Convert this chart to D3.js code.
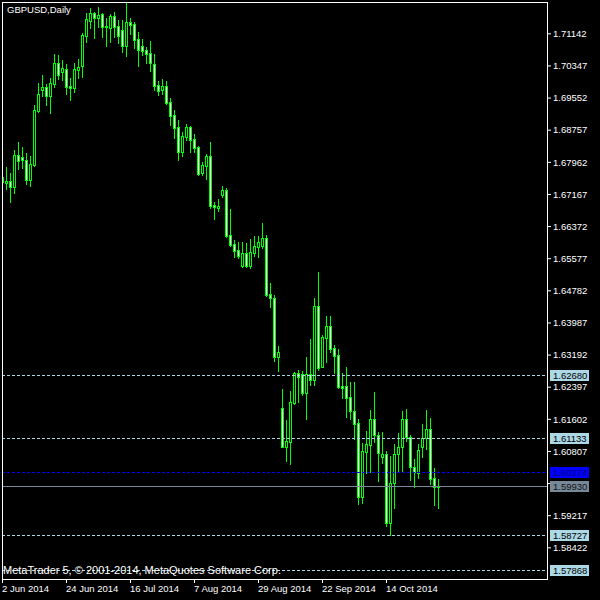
<!DOCTYPE html>
<html><head><meta charset="utf-8">
<script src="https://cdn.jsdelivr.net/npm/d3@7"></script>
<style>html,body{margin:0;padding:0;background:#000;} svg{display:block;}</style>
</head><body>
<svg id="chart" width="600" height="600"></svg>
<script>
const symbolTitle = "GBPUSD,Daily";
const footerText = "MetaTrader 5, \u00A9 2001-2014, MetaQuotes Software Corp.";
const firstDay = "2014-06-02", lastDay = "2014-10-31";

const open = [1.67586,1.67438,1.67487,1.67339,1.68131,1.68081,1.68007,1.67512,1.67883,1.69220,
1.69739,1.69814,1.69591,1.69895,1.70407,1.70185,1.70259,1.69838,1.69789,1.70234,
1.70341,1.71083,1.71454,1.71645,1.71514,1.71620,1.71323,1.71281,1.71571,1.71323,
1.71224,1.70836,1.71422,1.71373,1.71001,1.70828,1.70729,1.70655,1.70383,1.69863,
1.69739,1.69838,1.69442,1.69121,1.68824,1.68212,1.68584,1.68824,1.68527,1.68329,
1.67693,1.67866,1.68106,1.66893,1.66827,1.67141,1.67265,1.66151,1.65928,1.65780,
1.65384,1.65706,1.65384,1.65713,1.65861,1.65886,1.66077,1.64691,1.64585,1.63139,
1.61870,1.60912,1.61036,1.62001,1.62736,1.62711,1.62248,1.62711,1.62563,1.64394,
1.62892,1.63609,1.63899,1.63355,1.63181,1.62414,1.62414,1.62134,1.61803,1.61491,
1.59675,1.60788,1.60947,1.61590,1.61194,1.60665,1.60731,1.59031,1.60006,1.60724,
1.60912,1.61590,1.61160,1.60402,1.60269,1.60912,1.61120,1.61343,1.60137,1.59922];

const high = [1.67611,1.67834,1.67685,1.68254,1.68452,1.68329,1.68180,1.68106,1.69368,1.69913,
1.70111,1.69888,1.70036,1.70630,1.70605,1.70482,1.70383,1.70036,1.70407,1.70506,
1.71150,1.71645,1.71769,1.71670,1.71793,1.71645,1.71521,1.71620,1.71670,1.71472,
1.71472,1.71892,1.71521,1.71422,1.71182,1.71001,1.70811,1.70952,1.70630,1.69962,
1.70012,1.69962,1.69534,1.69244,1.68997,1.68700,1.68898,1.68848,1.68650,1.68353,
1.67958,1.68156,1.68452,1.66975,1.67042,1.67364,1.67314,1.66794,1.66027,1.65978,
1.65978,1.65953,1.66052,1.66126,1.66126,1.66448,1.66151,1.64963,1.64666,1.63404,
1.62340,1.61573,1.62290,1.62761,1.62810,1.62785,1.63132,1.63585,1.64592,1.65235,
1.63676,1.64146,1.64146,1.63436,1.63330,1.62736,1.62884,1.62513,1.62513,1.61590,
1.61004,1.61301,1.61820,1.62266,1.61276,1.61268,1.60813,1.60682,1.60979,1.61251,
1.61788,1.61845,1.61194,1.60608,1.60971,1.61474,1.61820,1.61615,1.60385,1.60113];

const low = [1.67438,1.67289,1.66968,1.67190,1.67784,1.67809,1.67413,1.67364,1.67859,1.69195,
1.69591,1.69368,1.69170,1.69814,1.70012,1.69987,1.69640,1.69492,1.69690,1.70036,
1.70061,1.70935,1.71281,1.71034,1.71306,1.71058,1.70836,1.70935,1.71058,1.70910,
1.70687,1.70588,1.71133,1.70771,1.70341,1.70605,1.70400,1.70217,1.69739,1.69616,
1.69648,1.69400,1.68873,1.68559,1.68014,1.68113,1.68502,1.68212,1.68212,1.67636,
1.67636,1.67537,1.66819,1.66547,1.66752,1.67099,1.66102,1.65879,1.65614,1.65589,
1.65359,1.65359,1.65334,1.65639,1.65614,1.65837,1.64641,1.64377,1.63040,1.62793,
1.60905,1.60566,1.60491,1.61969,1.62018,1.62191,1.61605,1.62439,1.62439,1.62810,
1.62892,1.63016,1.63263,1.62743,1.62372,1.62125,1.61654,1.61605,1.61110,1.59494,
1.59526,1.60254,1.60293,1.61036,1.60071,1.60501,1.58957,1.58727,1.59402,1.60286,
1.60286,1.61053,1.60095,1.59922,1.60145,1.60665,1.60855,1.59989,1.59469,1.59395];

const close = [1.67463,1.67487,1.67339,1.68131,1.67982,1.68014,1.67512,1.67908,1.69244,1.69640,
1.69814,1.69591,1.69913,1.70407,1.70111,1.70284,1.69814,1.69789,1.70259,1.70309,
1.71100,1.71496,1.71645,1.71514,1.71595,1.71306,1.71291,1.71571,1.71306,1.71083,
1.70836,1.71422,1.71355,1.70984,1.70737,1.70712,1.70638,1.70400,1.69846,1.69715,
1.69838,1.69425,1.69103,1.68806,1.68212,1.68601,1.68824,1.68502,1.68311,1.67661,
1.67883,1.68106,1.66869,1.66836,1.66869,1.67265,1.66134,1.65904,1.65762,1.65639,
1.65706,1.65384,1.65730,1.65879,1.65978,1.66077,1.64659,1.64585,1.63139,1.63256,
1.60912,1.61053,1.62018,1.62736,1.62637,1.62248,1.62711,1.62563,1.64394,1.62860,
1.63627,1.63899,1.63337,1.63164,1.62389,1.62372,1.62125,1.61803,1.61486,1.59660,
1.60806,1.60971,1.61590,1.61194,1.60749,1.60731,1.59031,1.60006,1.60731,1.60897,
1.61590,1.61160,1.60402,1.60279,1.60830,1.61127,1.61343,1.60120,1.59922,1.59930];

const priceTicks = [1.71142,1.70347,1.69552,1.68757,1.67962,1.67167,1.66372,1.65577,1.64782,
1.63987,1.63192,1.62397,1.61602,1.60807,1.60012,1.59217,1.58422];
const dateTickEvery = 16;
const levelLines = [1.62680, 1.61133, 1.58727, 1.57868];
const blueLevel = 1.60274;
const bidPrice = 1.59930;
const priceRange = [1.57638, 1.71917];

// ---------- layout ----------
const L = 2, T = 2, R = 547, B = 579;
const GREEN = "#00ff00", LBLUE = "#add8e6", FONT = "Liberation Sans, Arial, sans-serif";

const parse = d3.utcParse("%Y-%m-%d");
const dates = d3.utcDay.range(parse(firstDay), d3.utcDay.offset(parse(lastDay), 1))
  .filter(d => d.getUTCDay() !== 0 && d.getUTCDay() !== 6);

const x = d3.scalePoint().domain(dates).range([2, 2 + 4 * (dates.length - 1)]);
const y = d3.scaleLinear().domain(priceRange).range([B, T]);

const svg = d3.select("#chart");
svg.append("rect").attr("width", 600).attr("height", 600).attr("fill", "#000");

svg.append("defs").append("clipPath").attr("id", "plot")
  .append("rect").attr("x", L + 1).attr("y", T + 1).attr("width", R - L - 1).attr("height", B - T - 1);

const plot = svg.append("g").attr("clip-path", "url(#plot)");

// candles
const candles = plot.selectAll("g.c").data(dates).join("g").attr("class", "c");
candles.each(function(d, i) {
  const g = d3.select(this);
  const c = Math.round(x(d));
  const yh = Math.round(y(high[i])), yl = Math.round(y(low[i]));
  const yt = Math.round(y(Math.max(open[i], close[i])));
  const yb = Math.round(y(Math.min(open[i], close[i])));
  g.append("rect").attr("x", c).attr("y", yh).attr("width", 1).attr("height", yl - yh + 1).attr("fill", GREEN);
  g.append("rect").attr("x", c - 1).attr("y", yt).attr("width", 3).attr("height", yb - yt + 1).attr("fill", GREEN);
  if (yb - yt >= 2) {
    g.append("rect").attr("x", c).attr("y", yt + 1).attr("width", 1).attr("height", yb - yt - 1)
      .attr("fill", close[i] < open[i] ? "#ffffff" : "#000000");
  }
});

// horizontal level lines
const lines = svg.append("g");
levelLines.forEach(v => {
  const yy = Math.round(y(v)) + 0.5;
  lines.append("line").attr("x1", L).attr("x2", R).attr("y1", yy).attr("y2", yy)
    .attr("stroke", LBLUE).attr("stroke-dasharray", "3,2");
});
{
  const yy = Math.round(y(blueLevel)) + 0.5;
  lines.append("line").attr("x1", L).attr("x2", R).attr("y1", yy).attr("y2", yy)
    .attr("stroke", "#0000ff").attr("stroke-dasharray", "3,2");
  const yb = Math.round(y(bidPrice)) + 0.5;
  lines.append("line").attr("x1", L).attr("x2", R).attr("y1", yb).attr("y2", yb)
    .attr("stroke", "#778899");
}

// frame
svg.append("rect").attr("x", L + 0.5).attr("y", T + 0.5).attr("width", R - L).attr("height", B - T)
  .attr("fill", "none").attr("stroke", "#fff");

// y axis
const yAxis = svg.append("g").attr("transform", `translate(${R},0)`)
  .call(d3.axisRight(y).tickValues(priceTicks).tickSize(4).tickSizeOuter(0).tickPadding(2)
    .tickFormat(d3.format(".5f")));
yAxis.select(".domain").remove();
yAxis.selectAll("line").attr("stroke", "#fff");
yAxis.selectAll("text").attr("fill", "#fff").attr("font-family", FONT).attr("font-size", 9.5).attr("dy", "0.34em");

// x axis
const xAxis = svg.append("g").attr("transform", `translate(0,${B})`)
  .call(d3.axisBottom(x).tickValues(dates.filter((d, i) => i % dateTickEvery === 0))
    .tickSize(4).tickSizeOuter(0).tickPadding(2).tickFormat(d3.utcFormat("%-d %b %Y")));
xAxis.select(".domain").remove();
xAxis.selectAll("line").attr("stroke", "#fff");
xAxis.selectAll("text").attr("fill", "#fff").attr("font-family", FONT).attr("font-size", 9.5)
  .attr("text-anchor", "start").attr("x", -0.5);

// price labels
const labels = [
  ...levelLines.map(v => ({v, bg: LBLUE, fg: "#000"})),
  {v: blueLevel, bg: "#0000ff", fg: "#000080"},
  {v: bidPrice, bg: "#778899", fg: "#111"}
];
const lab = svg.append("g").selectAll("g").data(labels).join("g")
  .attr("transform", d => `translate(0,${Math.round(y(d.v))})`);
lab.append("rect").attr("x", 550).attr("y", -5).attr("width", 39).attr("height", 11).attr("fill", d => d.bg);
lab.append("text").attr("x", 553).attr("y", 0.5).attr("dy", "0.34em").attr("fill", d => d.fg)
  .attr("font-family", FONT).attr("font-size", 9.5).text(d => d3.format(".5f")(d.v));

// title & footer
svg.append("text").attr("x", 7).attr("y", 12.5).attr("fill", "#fff").attr("font-family", FONT)
  .attr("font-size", 9.5).text(symbolTitle);
svg.append("text").attr("x", 3).attr("y", 573.5).attr("fill", "#fff").attr("font-family", FONT)
  .attr("font-size", 11).text(footerText);
</script>
</body></html>
